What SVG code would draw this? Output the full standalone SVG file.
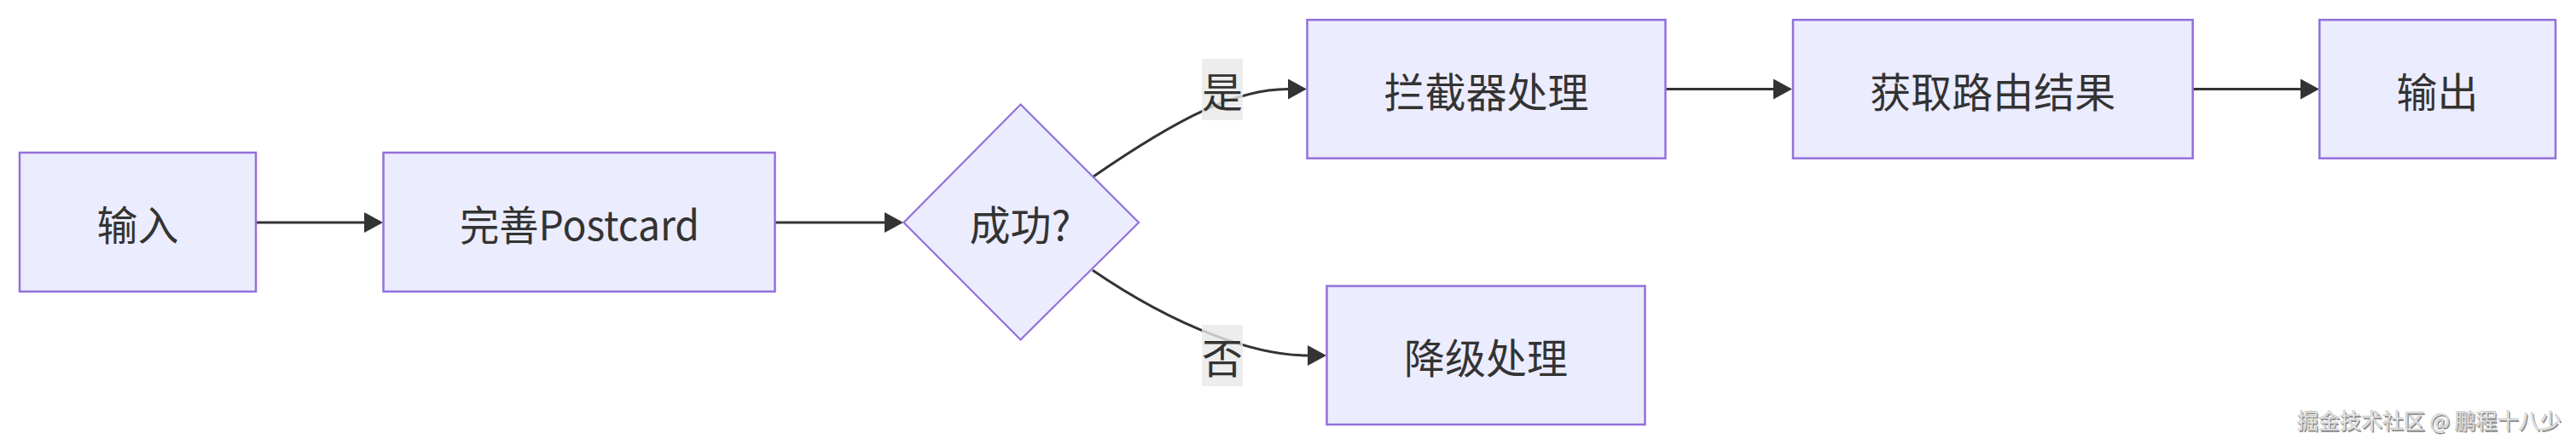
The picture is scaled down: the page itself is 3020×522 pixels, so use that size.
<svg xmlns="http://www.w3.org/2000/svg" width="3020" height="522" viewBox="0 0 3020 522">
<style>
.node rect,.node polygon{fill:#ECECFF;stroke:#9370DB;stroke-width:2.5}
.node polygon{stroke-width:2.2}
.lbl{font-family:"Noto Sans CJK SC","Noto Sans",sans-serif;font-size:48px;fill:#333333;text-anchor:middle;dominant-baseline:central}
.edge{fill:none;stroke:#333333;stroke-width:3;marker-end:url(#arrow)}
.elbg{fill:#e8e8e8;fill-opacity:0.8}
.wm{font-family:"Noto Sans CJK SC","Noto Sans",sans-serif;font-size:25px;dominant-baseline:central}
</style>
<defs>
<marker id="arrow" markerUnits="userSpaceOnUse" markerWidth="22" markerHeight="24" refX="0" refY="12" orient="auto">
<path d="M0,0 L22,12 L0,24 z" fill="#333333"/>
</marker>
</defs>
<rect width="3020" height="522" fill="#ffffff"/>
<g id="edges">
<path class="edge" d="M300,261 L427,261"/>
<path class="edge" d="M909,261 L1037,261"/>
<path class="edge" d="M1282,207 C1382,138 1449,104.5 1510,104.5"/>
<path class="edge" d="M1281,317 C1382,386 1473,417 1533,417"/>
<path class="edge" d="M1952,104.5 L2079,104.5"/>
<path class="edge" d="M2571,104.5 L2697,104.5"/>
</g>
<g id="edge-labels">
<g id="label-yes"><rect class="elbg" x="1409" y="69" width="48" height="72"/><text class="lbl" x="1433" y="105">是</text></g>
<g id="label-no"><rect class="elbg" x="1409" y="381" width="48" height="72"/><text class="lbl" x="1433" y="417">否</text></g>
</g>
<g id="node-input" class="node"><rect x="23" y="179" width="277" height="163"/><text class="lbl" x="161.5" y="260.5">输入</text></g>
<g id="node-postcard" class="node"><rect x="449.5" y="179" width="459" height="163"/><text class="lbl" x="679.5" y="260.5" textLength="281" lengthAdjust="spacingAndGlyphs">完善Postcard</text></g>
<g id="node-success" class="node"><polygon points="1196.5,122.5 1335,261 1196.5,398.5 1059.5,261"/><text class="lbl" x="1196" y="261">成功?</text></g>
<g id="node-intercept" class="node"><rect x="1532.5" y="23.3" width="420" height="162.4"/><text class="lbl" x="1742.5" y="104.5">拦截器处理</text></g>
<g id="node-route" class="node"><rect x="2102" y="23.3" width="468.7" height="162.4"/><text class="lbl" x="2336.3" y="104.5">获取路由结果</text></g>
<g id="node-output" class="node"><rect x="2719.3" y="23.3" width="276.7" height="162.4"/><text class="lbl" x="2857.6" y="104.5">输出</text></g>
<g id="node-fallback" class="node"><rect x="1555.5" y="335.5" width="373" height="162.5"/><text class="lbl" x="1742" y="416.7">降级处理</text></g>
<g id="watermark">
<text class="wm" x="2694.5" y="493.5" fill="#8c8c8c">掘金技术社区 @ 鹏程十八少</text>
<text class="wm" x="2693" y="492" fill="#f2f2f2" stroke="#b8b8b8" stroke-width="0.6">掘金技术社区 @ 鹏程十八少</text>
</g>
</svg>
